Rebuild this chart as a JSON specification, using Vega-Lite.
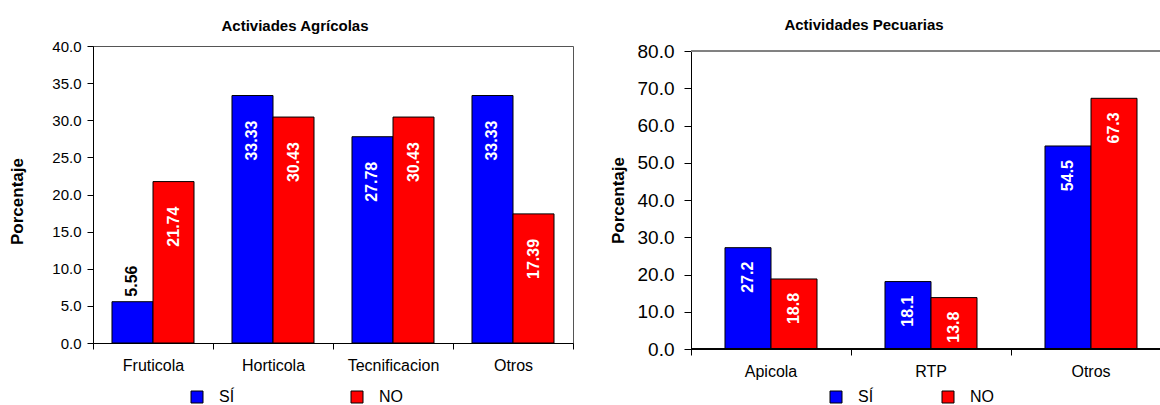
{
  "$schema": "https://vega.github.io/schema/vega-lite/v6.json",
  "padding": {"left": 8, "top": 18, "right": 0, "bottom": 0},
  "background": "white",
  "spacing": 35,
  "config": {
    "font": "Liberation Sans",
    "view": {"stroke": null},
    "axis": {"grid": false, "domainColor": "#000", "tickColor": "#000", "labelColor": "#000", "titleColor": "#000", "labelFont": "Liberation Sans", "titleFont": "Liberation Sans"},
    "legend": {"labelFont": "Liberation Sans", "labelColor": "#000"}
  },
  "datasets": {
    "agricolas": [
      {"actividad": "Fruticola", "respuesta": "SÍ", "porcentaje": 5.56},
      {"actividad": "Fruticola", "respuesta": "NO", "porcentaje": 21.74},
      {"actividad": "Horticola", "respuesta": "SÍ", "porcentaje": 33.33},
      {"actividad": "Horticola", "respuesta": "NO", "porcentaje": 30.43},
      {"actividad": "Tecnificacion", "respuesta": "SÍ", "porcentaje": 27.78},
      {"actividad": "Tecnificacion", "respuesta": "NO", "porcentaje": 30.43},
      {"actividad": "Otros", "respuesta": "SÍ", "porcentaje": 33.33},
      {"actividad": "Otros", "respuesta": "NO", "porcentaje": 17.39}
    ],
    "pecuarias": [
      {"actividad": "Apicola", "respuesta": "SÍ", "porcentaje": 27.2},
      {"actividad": "Apicola", "respuesta": "NO", "porcentaje": 18.8},
      {"actividad": "RTP", "respuesta": "SÍ", "porcentaje": 18.1},
      {"actividad": "RTP", "respuesta": "NO", "porcentaje": 13.8},
      {"actividad": "Otros", "respuesta": "SÍ", "porcentaje": 54.5},
      {"actividad": "Otros", "respuesta": "NO", "porcentaje": 67.3}
    ]
  },
  "resolve": {"scale": {"color": "independent", "y": "independent", "x": "independent", "xOffset": "independent"}, "legend": {"color": "independent"}},
  "hconcat": [
    {
      "width": 480,
      "height": 297,
      "view": {"stroke": "#555", "strokeWidth": 1},
      "data": {"name": "agricolas"},
      "title": {"text": "Activiades Agrícolas", "font": "Liberation Sans", "fontSize": 15, "fontWeight": "bold", "color": "#000", "anchor": "middle", "frame": "group", "dx": -38, "offset": 5},
      "encoding": {
        "x": {
          "field": "actividad", "type": "nominal",
          "sort": ["Fruticola", "Horticola", "Tecnificacion", "Otros"],
          "scale": {"paddingInner": 0, "paddingOuter": 0},
          "axis": {"title": null, "labelAngle": 0, "labelFontSize": 16, "labelPadding": 8, "tickSize": 6, "tickBand": "extent", "domainWidth": 1}
        },
        "xOffset": {"field": "respuesta", "sort": ["SÍ", "NO"], "scale": {"paddingInner": 0, "paddingOuter": 0.463}},
        "y": {
          "field": "porcentaje", "type": "quantitative",
          "scale": {"domain": [0, 40], "nice": false},
          "axis": {"title": "Porcentaje", "values": [0, 5, 10, 15, 20, 25, 30, 35, 40], "format": ".1f", "labelFontSize": 15, "labelPadding": 6, "tickSize": 6, "titleFontSize": 17, "titleFontWeight": "bold", "titlePadding": 25, "titleY": 155}
        }
      },
      "layer": [
        {
          "mark": {"type": "bar", "stroke": "#000", "strokeWidth": 1},
          "encoding": {
            "color": {
              "field": "respuesta", "type": "nominal",
              "scale": {"domain": ["SÍ", "NO"], "range": ["#0000FF", "#FF0000"]},
              "legend": {"title": null, "orient": "none", "direction": "horizontal", "legendX": 96, "legendY": 343, "symbolType": "square", "symbolSize": 144, "symbolStrokeColor": "#000", "symbolStrokeWidth": 1, "symbolOpacity": 1, "labelFontSize": 16, "labelOffset": 14, "columnPadding": 114, "padding": 0}
            }
          }
        },
        {
          "transform": [{"filter": "datum.porcentaje >= 10"}],
          "mark": {"type": "text", "angle": 270, "align": "right", "baseline": "middle", "dx": -25, "color": "#FFFFFF", "font": "Liberation Sans", "fontWeight": "bold", "fontSize": 16},
          "encoding": {"text": {"field": "porcentaje", "type": "quantitative", "format": ".2f"}}
        },
        {
          "transform": [{"filter": "datum.porcentaje < 10"}],
          "mark": {"type": "text", "angle": 270, "align": "left", "baseline": "middle", "dx": 5, "color": "#000000", "font": "Liberation Sans", "fontWeight": "bold", "fontSize": 16},
          "encoding": {"text": {"field": "porcentaje", "type": "quantitative", "format": ".2f"}}
        }
      ]
    },
    {
      "width": 480,
      "height": 303,
      "view": {"stroke": null},
      "data": {"name": "pecuarias"},
      "title": {"text": "Actividades Pecuarias", "font": "Liberation Sans", "fontSize": 15, "fontWeight": "bold", "color": "#000", "anchor": "middle", "frame": "group", "dx": -67, "offset": 9},
      "layer": [
        {
          "mark": {"type": "bar", "stroke": "#000", "strokeWidth": 1},
          "encoding": {
            "x": {
              "field": "actividad", "type": "nominal",
              "sort": ["Apicola", "RTP", "Otros"],
              "scale": {"paddingInner": 0, "paddingOuter": 0},
              "axis": {"title": null, "labelAngle": 0, "labelFontSize": 16, "labelPadding": 8, "tickSize": 6, "bandPosition": 0, "domain": false}
            },
            "xOffset": {"field": "respuesta", "sort": ["SÍ", "NO"], "scale": {"paddingInner": 0, "paddingOuter": 0.739}},
            "y": {
              "field": "porcentaje", "type": "quantitative",
              "scale": {"domain": [0, 80], "nice": false, "range": [303, 5]},
              "axis": {"title": "Porcentaje", "values": [0, 10, 20, 30, 40, 50, 60, 70, 80], "format": ".1f", "labelFontSize": 19, "labelPadding": 10, "tickSize": 7, "titleFontSize": 17, "titleFontWeight": "bold", "titlePadding": 10}
            },
            "color": {
              "field": "respuesta", "type": "nominal",
              "scale": {"domain": ["SÍ", "NO"], "range": ["#0000FF", "#FF0000"]},
              "legend": {"title": null, "orient": "none", "direction": "horizontal", "legendX": 137, "legendY": 343, "symbolType": "square", "symbolSize": 144, "symbolStrokeColor": "#000", "symbolStrokeWidth": 1, "symbolOpacity": 1, "labelFontSize": 16, "labelOffset": 14, "columnPadding": 66, "padding": 0}
            }
          }
        },
        {
          "mark": {"type": "text", "angle": 270, "align": "right", "baseline": "middle", "dx": -14, "color": "#FFFFFF", "font": "Liberation Sans", "fontWeight": "bold", "fontSize": 16},
          "encoding": {
            "x": {
              "field": "actividad", "type": "nominal",
              "sort": ["Apicola", "RTP", "Otros"],
              "scale": {"paddingInner": 0, "paddingOuter": 0},
              "axis": {"title": null, "labelAngle": 0, "labelFontSize": 16, "labelPadding": 8, "tickSize": 6, "bandPosition": 0, "domain": false}
            },
            "xOffset": {"field": "respuesta", "sort": ["SÍ", "NO"], "scale": {"paddingInner": 0, "paddingOuter": 0.739}},
            "y": {
              "field": "porcentaje", "type": "quantitative",
              "scale": {"domain": [0, 80], "nice": false, "range": [303, 5]},
              "axis": {"title": "Porcentaje", "values": [0, 10, 20, 30, 40, 50, 60, 70, 80], "format": ".1f", "labelFontSize": 19, "labelPadding": 10, "tickSize": 7, "titleFontSize": 17, "titleFontWeight": "bold", "titlePadding": 10}
            },
            "text": {"field": "porcentaje", "type": "quantitative", "format": ".1f"}
          }
        },
        {
          "mark": {"type": "rule", "color": "#808080", "strokeWidth": 1},
          "encoding": {
            "y": {
              "datum": 80, "type": "quantitative",
              "scale": {"domain": [0, 80], "nice": false, "range": [303, 5]},
              "axis": {"title": "Porcentaje", "values": [0, 10, 20, 30, 40, 50, 60, 70, 80], "format": ".1f", "labelFontSize": 19, "labelPadding": 10, "tickSize": 7, "titleFontSize": 17, "titleFontWeight": "bold", "titlePadding": 10}
            }
          }
        },
        {
          "mark": {"type": "rule", "color": "#000", "strokeWidth": 1},
          "encoding": {
            "y": {
              "datum": 0, "type": "quantitative",
              "scale": {"domain": [0, 80], "nice": false, "range": [303, 5]},
              "axis": {"title": "Porcentaje", "values": [0, 10, 20, 30, 40, 50, 60, 70, 80], "format": ".1f", "labelFontSize": 19, "labelPadding": 10, "tickSize": 7, "titleFontSize": 17, "titleFontWeight": "bold", "titlePadding": 10}
            }
          }
        }
      ]
    }
  ]
}
